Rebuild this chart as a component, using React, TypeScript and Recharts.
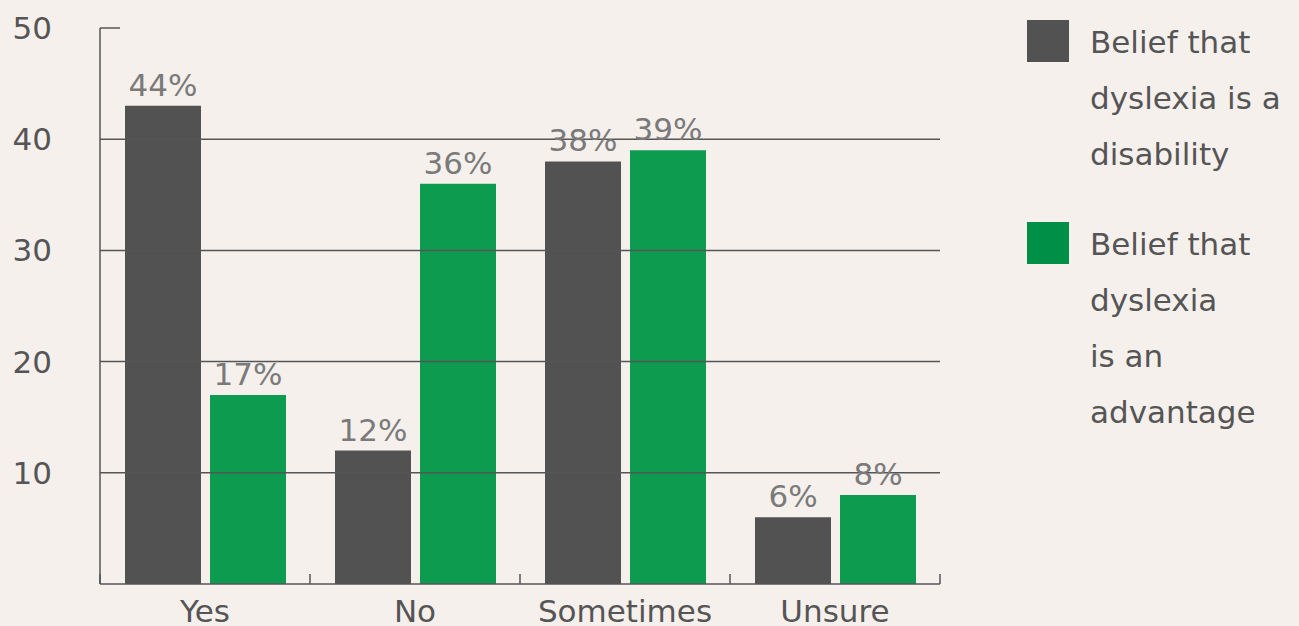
import { BarChart, Bar, XAxis, YAxis, ReferenceLine, LabelList, Legend } from "recharts";

const categories = ["Yes", "No", "Sometimes", "Unsure"];
const disabilityValues = [43, 12, 38, 6];
const advantageValues = [17, 36, 39, 8];
const disabilityLabels = ["44%", "12%", "38%", "6%"];
const advantageLabels = ["17%", "36%", "39%", "8%"];
const yTicks = [10, 20, 30, 40, 50];
const gridValues = [10, 20, 30, 40];
const edgeTicks = [0, 1, 2, 3, 4];

const legendItems = [
  { color: "#525252", lines: ["Belief that", "dyslexia is a", "disability"] },
  { color: "#008f47", lines: ["Belief that", "dyslexia", "is an", "advantage"] },
];

// pos = band centre on a 0..n scale, used only by the boundary-tick axis
const data = categories.map((cat, i) => ({
  cat,
  pos: i + 0.5,
  disability: disabilityValues[i],
  advantage: advantageValues[i],
  disabilityLabel: disabilityLabels[i],
  advantageLabel: advantageLabels[i],
}));

const FONT = "'DejaVu Sans', sans-serif";
const AXIS = "#555555";
const TICK_MARGIN = 48;
const LEGEND_W = 272;

function YTick(props: any) {
  const { x, y, payload } = props;
  return (
    <g>
      <text x={x} y={y} dy="0.355em" textAnchor="end" fontSize={31} fill="#555" fontFamily={FONT}>
        {payload.value}
      </text>
      {payload.value === 50 && (
        <line x1={x + TICK_MARGIN} x2={x + TICK_MARGIN + 20} y1={y} y2={y} stroke={AXIS} strokeWidth={1.5} />
      )}
    </g>
  );
}

function LegendBox() {
  return (
    <div style={{ fontFamily: FONT, color: "#555", fontSize: 31 }}>
      {legendItems.map((item, i) => (
        <div key={i} style={{ display: "flex", alignItems: "flex-start", marginBottom: 40 }}>
          <div style={{ width: 42, height: 42, background: item.color, marginTop: 0, marginRight: 21 }} />
          <div style={{ lineHeight: "56px", marginTop: -6, whiteSpace: "nowrap" }}>
            {item.lines.map((l, j) => (
              <div key={j}>{l}</div>
            ))}
          </div>
        </div>
      ))}
    </div>
  );
}

export default function App() {
  return (
    <div style={{ position: "absolute", left: 0, top: 0, width: 1299, height: 626, background: "#f6f0ed", overflow: "hidden" }}>
      <BarChart
        width={1299}
        height={626}
        data={data}
        margin={{ top: 28, right: 359 - LEGEND_W, left: 0, bottom: 0 }}
        barCategoryGap={25}
        barGap={9}
      >
        <XAxis
          xAxisId="edges"
          dataKey="pos"
          type="number"
          domain={[0, categories.length]}
          allowDataOverflow
          ticks={edgeTicks}
          height={20}
          mirror
          tickSize={10}
          axisLine={{ stroke: AXIS, strokeWidth: 1.5 }}
          tickLine={{ stroke: AXIS, strokeWidth: 1.5 }}
          tick={() => <g />}
        />
        <XAxis
          dataKey="cat"
          height={42}
          axisLine={false}
          tickLine={false}
          tickSize={0}
          tickMargin={16}
          tick={{ fontSize: 31, fill: "#555", fontFamily: FONT }}
          interval={0}
        />
        <YAxis
          width={100}
          domain={[0, 50]}
          ticks={yTicks}
          tickSize={0}
          tickMargin={TICK_MARGIN}
          axisLine={{ stroke: AXIS, strokeWidth: 1.5 }}
          tickLine={false}
          tick={<YTick />}
        />
        {gridValues.map((v) => (
          <ReferenceLine key={v} y={v} stroke={AXIS} strokeWidth={1.5} />
        ))}
        <Legend
          layout="vertical"
          verticalAlign="top"
          align="right"
          content={<LegendBox />}
          wrapperStyle={{ left: 1027, top: 20, width: LEGEND_W }}
        />
        <Bar dataKey="disability" fill="#525252" isAnimationActive={false}>
          <LabelList dataKey="disabilityLabel" position="top" offset={10} fontSize={31} fill="#7a7a7a" fontFamily={FONT} />
        </Bar>
        <Bar dataKey="advantage" fill="#0d9b4f" isAnimationActive={false}>
          <LabelList dataKey="advantageLabel" position="top" offset={10} fontSize={31} fill="#7a7a7a" fontFamily={FONT} />
        </Bar>
      </BarChart>
    </div>
  );
}
